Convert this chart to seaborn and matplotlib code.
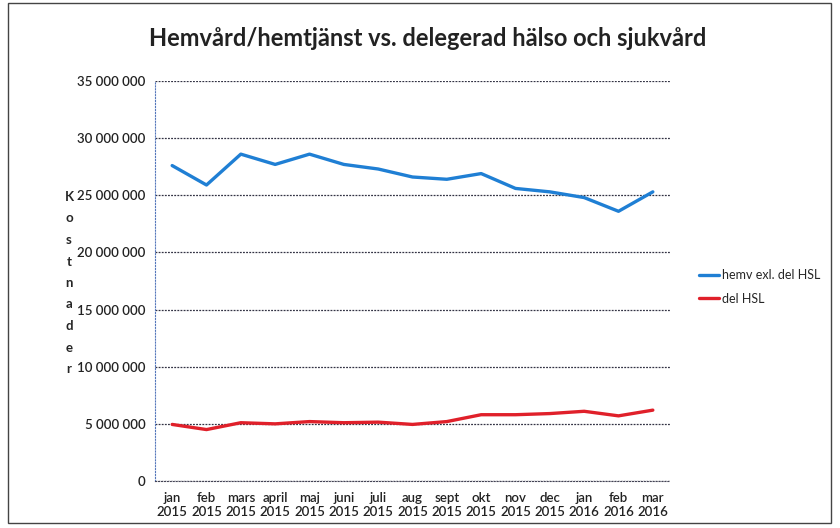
import pandas as pd
import seaborn as sns
import matplotlib.pyplot as plt
from matplotlib.patches import Rectangle
from matplotlib.ticker import FuncFormatter

# Months (category labels on the x axis)
months = ['jan\n2015', 'feb\n2015', 'mars\n2015', 'april\n2015', 'maj\n2015', 'juni\n2015',
          'juli\n2015', 'aug\n2015', 'sept\n2015', 'okt\n2015', 'nov\n2015', 'dec\n2015',
          'jan\n2016', 'feb\n2016', 'mar\n2016']

# Costs
hemv = [27600000, 25900000, 28600000, 27700000, 28600000, 27700000, 27300000, 26600000,
        26400000, 26900000, 25600000, 25300000, 24800000, 23600000, 25300000]
del_hsl = [4950000, 4500000, 5100000, 5000000, 5200000, 5100000, 5150000, 4950000,
           5200000, 5800000, 5800000, 5900000, 6100000, 5700000, 6200000]

series_names = ['hemv exl. del HSL', 'del HSL']

df = pd.DataFrame({'month': months, series_names[0]: hemv, series_names[1]: del_hsl})
df['pos'] = range(len(months))
long_df = df.melt(id_vars=['month', 'pos'], var_name='serie', value_name='kostnad')

sns.set_style('white')
plt.rcParams['font.family'] = ['Lato', 'DejaVu Sans']

fig = plt.figure(figsize=(8.4, 5.28), dpi=100)
ax = fig.add_axes([155 / 840, 1 - 481 / 528, 515 / 840, 400 / 528])

sns.lineplot(data=long_df, x='pos', y='kostnad', hue='serie',
             palette=['#1f7fd4', '#e0202a'], linewidth=2.4, ax=ax)

ax.set_xlim(-0.5, len(months) - 0.5)
ax.set_ylim(0, 35000000)
ax.set_yticks(range(0, 35000001, 5000000))
ax.yaxis.set_major_formatter(FuncFormatter(lambda v, p: f'{int(v):,}'.replace(',', ' ')))
ax.set_xticks(range(len(months)))
ax.set_xticklabels(months)
ax.tick_params(axis='both', labelsize=9.5, colors='#222222', length=3, direction='out')
for lab in ax.get_xticklabels() + ax.get_yticklabels():
    lab.set_fontweight('semibold')

# dotted grid lines
ax.grid(axis='y', color='#333344', linestyle=(0, (1.5, 1)), linewidth=0.9)
ax.set_axisbelow(True)
for s in ['top', 'right']:
    ax.spines[s].set_visible(False)
ax.spines['left'].set_color('#5577bb')
ax.spines['left'].set_linestyle(':')
ax.spines['bottom'].set_color('#444455')
ax.spines['bottom'].set_linestyle(':')
ax.tick_params(axis='x', pad=5)
ax.tick_params(axis='y', pad=4)

ax.set_xlabel('')
ax.set_ylabel('')

# stacked y label
fig.text(69 / 840, 1 - 283 / 528, '\n'.join('Kostnader'), ha='center', va='center',
         fontsize=9.5, fontweight='bold', linespacing=1.95)

# title
fig.text(428 / 840, 1 - 38 / 528, 'Hemvård/hemtjänst vs. delegerad hälso och sjukvård',
         ha='center', va='center', fontsize=17, fontweight='bold', color='#222222')

# legend to the right
handles, labels = ax.get_legend_handles_labels()
ax.legend(handles, labels, loc='center left', bbox_to_anchor=(694 / 840, 1 - 287 / 528),
          bbox_transform=fig.transFigure, frameon=False, fontsize=9,
          handlelength=1.6, handletextpad=0.2, labelspacing=0.9, borderaxespad=0)

# frame around chart
fig.patches.append(Rectangle((8 / 840, 0.01), 0.98, 0.985, transform=fig.transFigure,
                             fill=False, edgecolor='#444444', linewidth=1))

plt.savefig('out.png', dpi=100)
